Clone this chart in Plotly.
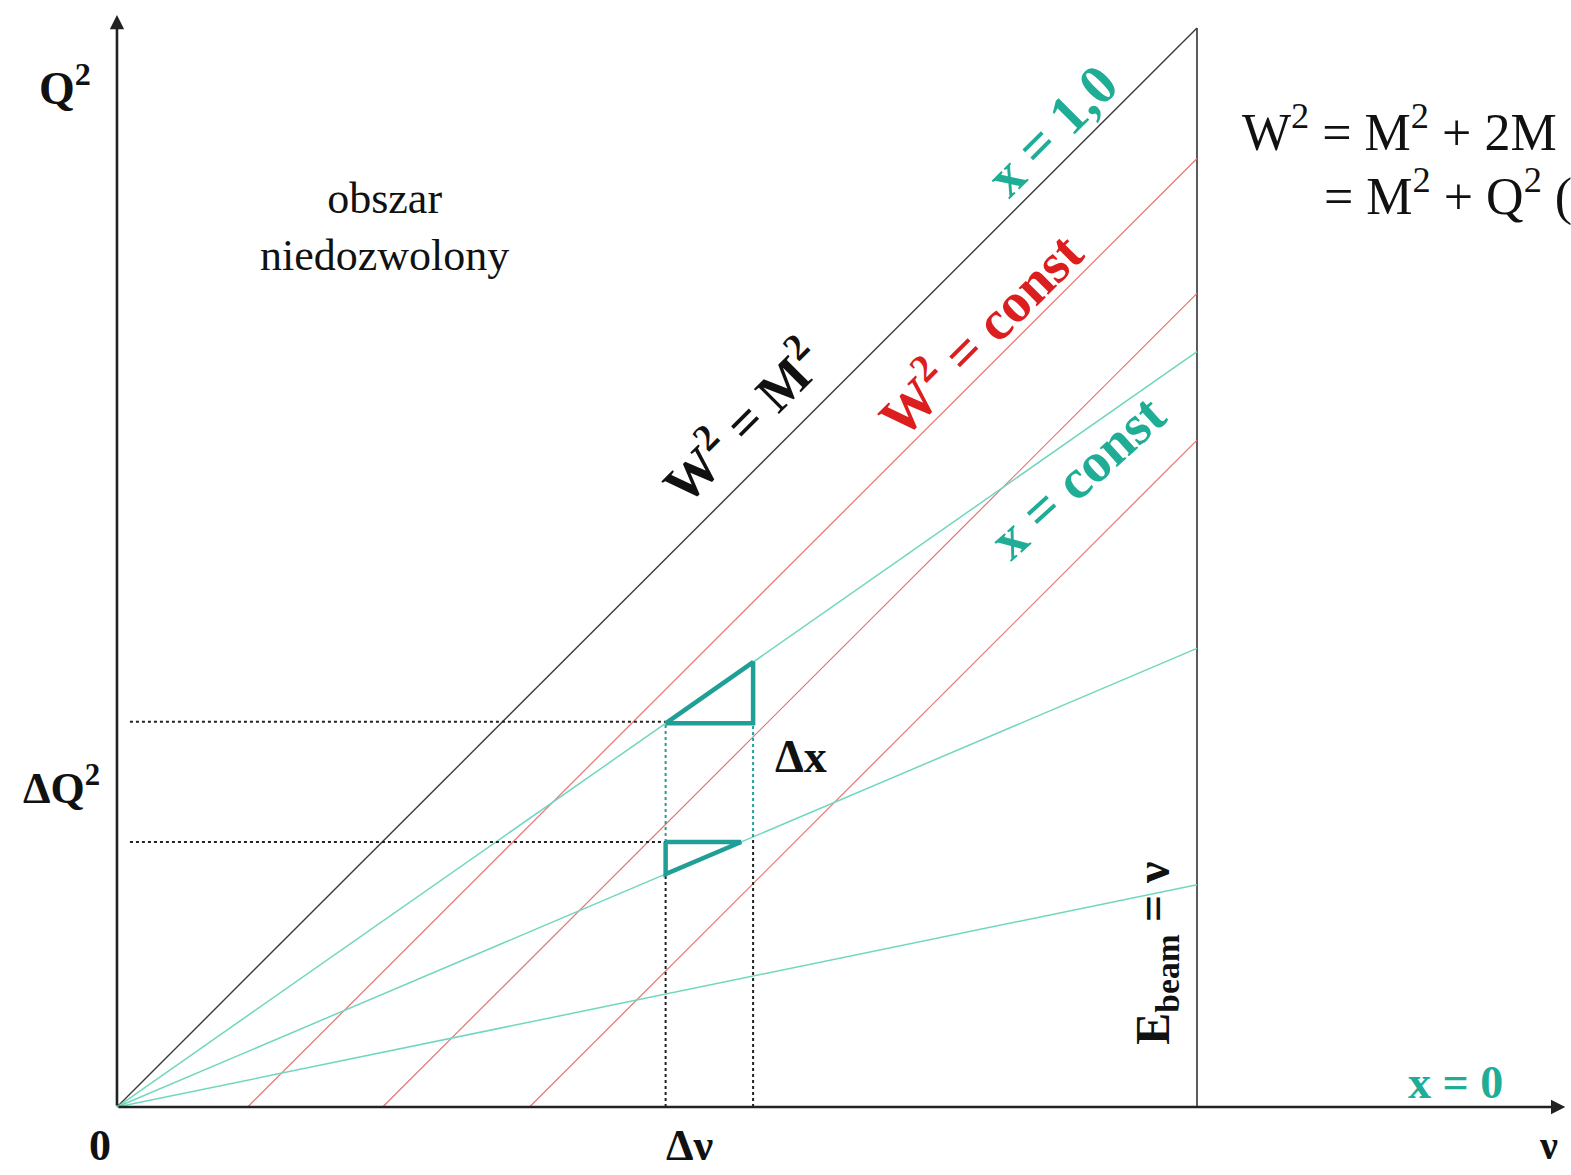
import plotly.graph_objects as go

# ---- data (in units of the beam energy) ----
beam_energy = 1.0                      # E_beam = nu boundary
w2_m2_slope = 1.0                      # W^2 = M^2 line
w2_const_offsets = [0.121, 0.246, 0.382]   # nu-intercepts of W^2 = const lines
x_const_slopes = [0.700, 0.425, 0.206]     # x = const lines through origin
nu_bin = [0.508, 0.589]                # Delta nu
q2_bin = [0.2456, 0.357]               # Delta Q^2
q2_top = 1.0

SERIF = "Liberation Serif, Times New Roman, serif"
GREEN_LINE = "#70d7be"
GREEN_TEXT = "#20ad96"
GREEN_DARK = "#1f9f95"
RED_LINE = "#e27575"
RED_TEXT = "#dd1e1e"

fig = go.Figure()

def line(xs, ys, color, width, dash="solid"):
    fig.add_trace(go.Scatter(x=xs, y=ys, mode="lines", hoverinfo="skip",
                             line=dict(color=color, width=width, dash=dash)))

# E_beam vertical boundary
line([beam_energy, beam_energy], [0, q2_top], "#333333", 1.6)
# W^2 = M^2 line
line([0, beam_energy], [0, w2_m2_slope * beam_energy], "#3a3a3a", 1.4)
# W^2 = const lines
for c in w2_const_offsets:
    line([c, beam_energy], [0, (beam_energy - c) * w2_m2_slope], RED_LINE, 1.2)
# x = const lines
for s in x_const_slopes:
    line([0, beam_energy], [0, s * beam_energy], GREEN_LINE, 1.5)

nu_lo, nu_hi = nu_bin
q_lo, q_hi = q2_bin
s1, s2 = x_const_slopes[0], x_const_slopes[1]

# dotted guides
line([0.012, nu_lo], [q_hi, q_hi], "#222222", 2, "dot")
line([0.012, nu_lo], [q_lo, q_lo], "#222222", 2, "dot")
line([nu_lo, nu_lo], [0, q_lo], "#222222", 2, "dot")
line([nu_hi, nu_hi], [0, s2 * nu_hi], "#222222", 2, "dot")
line([nu_lo, nu_lo], [q_lo, q_hi], GREEN_DARK, 2, "dot")
line([nu_hi, nu_hi], [s2 * nu_hi, q_hi], GREEN_DARK, 2, "dot")

# Delta x triangles
line([nu_lo, nu_hi, nu_hi, nu_lo], [s1 * nu_lo, s1 * nu_lo, s1 * nu_hi, s1 * nu_lo], GREEN_DARK, 4.5)
line([nu_lo, q_lo / s2, nu_lo, nu_lo], [q_lo, q_lo, s2 * nu_lo, q_lo], GREEN_DARK, 4.5)

ann = []
# axes with arrows
ann.append(dict(x=0, y=1.012, ax=0, ay=0, xref="x", yref="y", axref="x", ayref="y",
                showarrow=True, arrowhead=2, arrowsize=1.1, arrowwidth=2.6, arrowcolor="#222222", text=""))
ann.append(dict(x=1.341, y=0, ax=0, ay=0, xref="x", yref="y", axref="x", ayref="y",
                showarrow=True, arrowhead=2, arrowsize=1.1, arrowwidth=2.6, arrowcolor="#222222", text=""))

def txt(x, y, t, size, color="#111111", angle=0, bold=True, xanchor="center", align="center"):
    ann.append(dict(x=x, y=y, xref="x", yref="y", text=(f"<b>{t}</b>" if bold else t),
                    showarrow=False, textangle=angle, xanchor=xanchor, yanchor="middle", align=align,
                    font=dict(family=SERIF, size=size, color=color)))

txt(-0.048, 0.947, "Q<sup>2</sup>", 46)
txt(0.248, 0.816, "obszar<br>niedozwolony", 44, bold=False)
txt(0.578, 0.636, "W<sup>2</sup> = M<sup>2</sup>", 54, angle=-45)
txt(0.797, 0.718, "W<sup>2</sup> = const", 56, color=RED_TEXT, angle=-45)
txt(0.889, 0.584, "x = const", 56, color=GREEN_TEXT, angle=-42)
txt(0.866, 0.905, "x = 1,0", 56, color=GREEN_TEXT, angle=-45)
txt(-0.051, 0.298, "ΔQ<sup>2</sup>", 44)
txt(0.633, 0.325, "Δx", 46)
txt(-0.016, -0.036, "0", 44)
txt(0.531, -0.036, "Δν", 44)
txt(1.325, -0.036, "ν", 40)
txt(1.239, 0.023, "x = 0", 46, color=GREEN_TEXT)
txt(0.962, 0.143, "E<sub>beam</sub> = ν", 48, angle=-90)
txt(1.040, 0.907, "W<sup>2</sup> = M<sup>2</sup> + 2M", 52, bold=False, xanchor="left")
txt(1.116, 0.847, "= M<sup>2</sup> + Q<sup>2</sup> (", 52, bold=False, xanchor="left")

fig.update_layout(
    width=1571, height=1175, margin=dict(l=0, r=0, t=0, b=0),
    paper_bgcolor="white", plot_bgcolor="white", showlegend=False,
    annotations=ann,
    xaxis=dict(range=[-0.1083, 1.3463], visible=False, fixedrange=True),
    yaxis=dict(range=[-0.0630, 1.0259], visible=False, fixedrange=True),
)
fig.write_html("out.html")
